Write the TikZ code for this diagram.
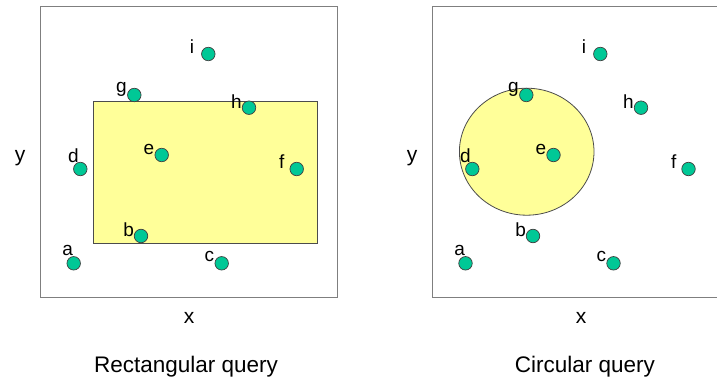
\documentclass[tikz,border=0pt]{standalone}
\usepackage{fontspec}
\setmainfont{Liberation Sans}
\definecolor{dotgreen}{HTML}{00C896}
\definecolor{qyellow}{HTML}{FFFF99}
\definecolor{framegray}{HTML}{7F7F7F}
\tikzset{
  frame/.style={draw=framegray, line width=1pt},
  region/.style={draw=black!70, fill=qyellow, line width=0.8pt},
  pt/.style={circle, draw=black!75, fill=dotgreen, line width=0.7pt, minimum size=13.5pt, inner sep=0pt},
  lbl/.style={font=\fontsize{19}{19}\selectfont, inner sep=0pt},
  axis/.style={font=\fontsize{21}{21}\selectfont, inner sep=0pt},
  caption/.style={font=\fontsize{22.5}{23}\selectfont, inner sep=0pt}
}
\begin{document}
\begin{tikzpicture}[x=1pt, y=-1pt]
\useasboundingbox (0,0) rectangle (717,377);

% left panel: rectangular query
\draw[frame] (40,7) rectangle (337,297);
\draw[region] (93.5,101) rectangle (317.5,243);
\foreach \n/\x/\y/\lx/\ly in {
  i/208.3/54/192/46.5,
  g/134.3/95/121.5/89,
  h/249/107.7/236.5/101.5,
  e/161.7/155/149/149,
  d/80.3/169/73.3/155.5,
  f/296.7/169/281.7/161.5,
  b/141/236/128.7/229.5,
  a/73.7/263.3/67.7/250.5,
  c/221.7/263.3/209.3/256.5}{
  \node[pt] (L\n) at (\x,\y) {};
  \node[lbl] (Ll\n) at (\lx,\ly) {\n};
}
\node[axis] (Ly) at (20,158.5) {y};
\node[axis] (Lx) at (189,317.5) {x};
\node[caption] (Lcap) at (186,366.5) {Rectangular query};

% right panel: circular query
\draw[frame] (432,7) -- (717,7);
\draw[frame] (432,297) -- (717,297);
\draw[frame] (432,6.5) -- (432,297.5);
\draw[region] (526.7,151.7) ellipse [x radius=67.3, y radius=63.5];
\foreach \n/\x/\y/\lx/\ly in {
  i/600.3/54/584/46.5,
  g/526.3/95/513.5/89,
  h/641/107.7/628.5/101.5,
  e/553.5/155/541/149,
  d/472.3/169/465.3/155.5,
  f/688.5/169/673.7/161.5,
  b/533/236/520.7/229.5,
  a/465.5/263.3/459.7/250.5,
  c/613.5/263.3/601.3/256.5}{
  \node[pt] (R\n) at (\x,\y) {};
  \node[lbl] (Rl\n) at (\lx,\ly) {\n};
}
\node[axis] (Ry) at (412,158.5) {y};
\node[axis] (Rx) at (581,317.5) {x};
\node[caption] (Rcap) at (585,366.5) {Circular query};
\end{tikzpicture}
\end{document}
